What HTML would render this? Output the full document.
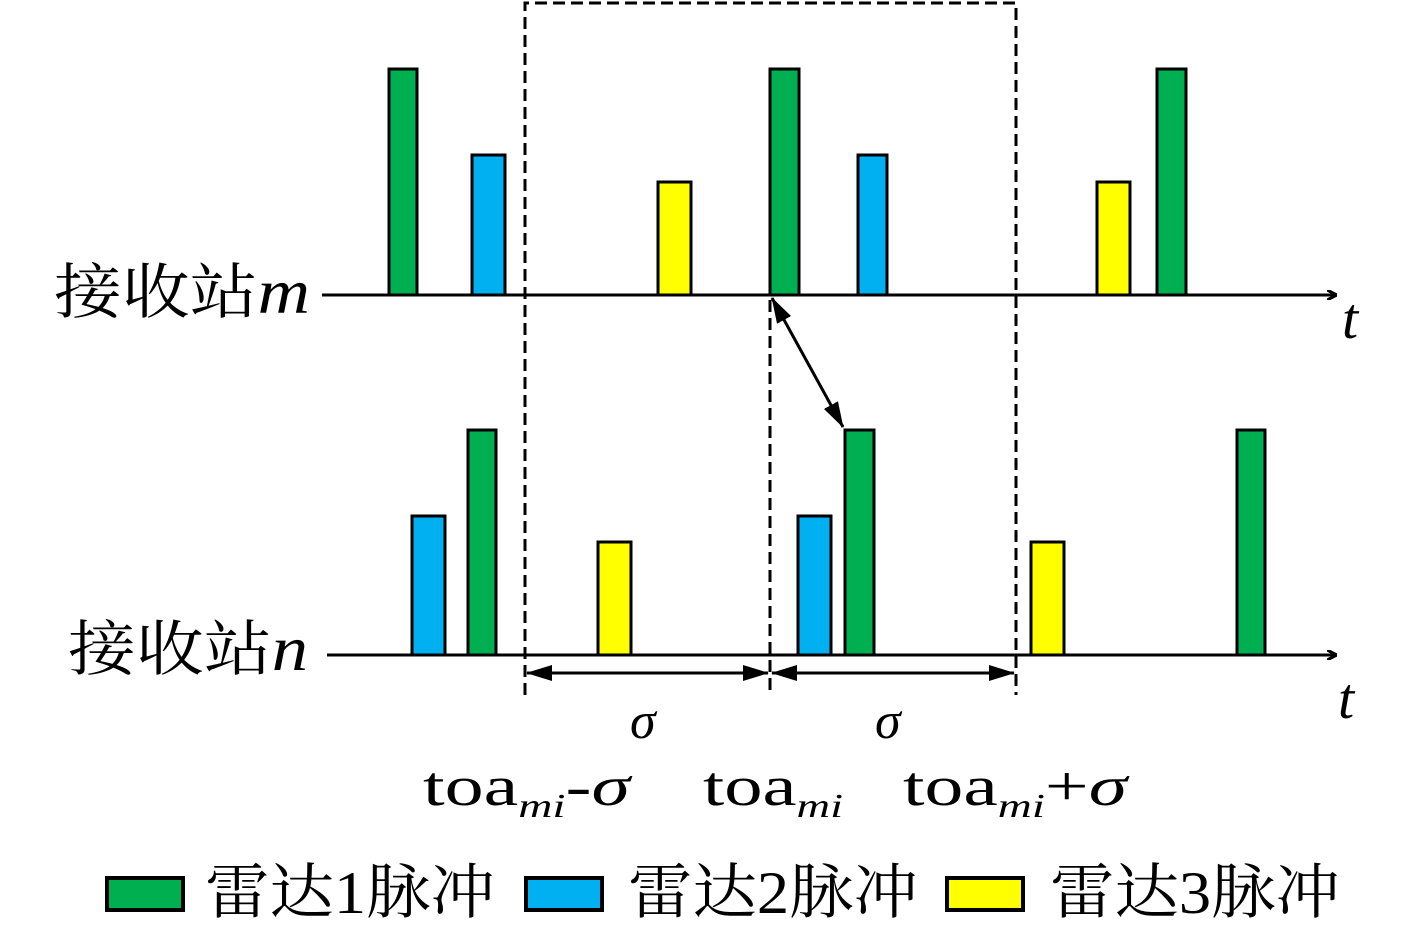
<!DOCTYPE html>
<html><head><meta charset="utf-8"><style>
html,body{margin:0;padding:0;background:#fff;}
svg{display:block;}
.cj{font-family:"Liberation Serif","Noto Serif CJK SC",serif;}
.it{font-family:"Liberation Serif",serif;font-style:italic;}
.rm{font-family:"Liberation Serif",serif;}
</style></head><body>
<svg width="1417" height="933" viewBox="0 0 1417 933" xmlns="http://www.w3.org/2000/svg">
<defs>
<marker id="ah" markerWidth="10" markerHeight="10" refX="9" refY="5" orient="auto" markerUnits="userSpaceOnUse">
<path d="M0,0 L10,5 L0,10" fill="none" stroke="#000" stroke-width="3"/></marker>
<marker id="fa" markerWidth="26" markerHeight="16" refX="25" refY="8" orient="auto-start-reverse" markerUnits="userSpaceOnUse">
<path d="M0,0 L26,8 L0,16 Z" fill="#000"/></marker>
</defs>
<g stroke="#000" stroke-width="3">
<rect x="389" y="69" width="28" height="226" fill="#00b050"/>
<rect x="472" y="155" width="33" height="140" fill="#00b0f0"/>
<rect x="658" y="182" width="33" height="113" fill="#ffff00"/>
<rect x="770" y="69" width="29" height="226" fill="#00b050"/>
<rect x="858" y="155" width="29" height="140" fill="#00b0f0"/>
<rect x="1097" y="182" width="33" height="113" fill="#ffff00"/>
<rect x="1157" y="69" width="29" height="226" fill="#00b050"/>
<rect x="412" y="516" width="33" height="139" fill="#00b0f0"/>
<rect x="468" y="430" width="28" height="225" fill="#00b050"/>
<rect x="598" y="542" width="33" height="113" fill="#ffff00"/>
<rect x="798" y="516" width="33" height="139" fill="#00b0f0"/>
<rect x="845" y="430" width="29" height="225" fill="#00b050"/>
<rect x="1031" y="542" width="33" height="113" fill="#ffff00"/>
<rect x="1237" y="430" width="28" height="225" fill="#00b050"/>
</g>
<g stroke="#000" stroke-width="3" fill="none">
<line x1="322" y1="295" x2="1336" y2="295" marker-end="url(#ah)"/>
<line x1="327" y1="655" x2="1336" y2="655" marker-end="url(#ah)"/>
<path d="M525,695 L525,3 L1016,3 L1016,695" stroke-dasharray="12,6"/>
<line x1="770" y1="300" x2="770" y2="695" stroke-dasharray="12,6"/>
<line x1="772" y1="298" x2="843" y2="427" marker-start="url(#fa)" marker-end="url(#fa)"/>
<line x1="527" y1="673" x2="768" y2="673" marker-start="url(#fa)" marker-end="url(#fa)"/>
<line x1="772" y1="673" x2="1014" y2="673" marker-start="url(#fa)" marker-end="url(#fa)"/>
</g>
<text x="54" y="313" class="cj" font-size="60" textLength="256" lengthAdjust="spacingAndGlyphs">接收站<tspan class="it" font-size="64">m</tspan></text>
<text x="68" y="670" class="cj" font-size="60" textLength="240" lengthAdjust="spacingAndGlyphs">接收站<tspan class="it" font-size="64">n</tspan></text>
<text x="1342" y="338" class="it" font-size="58">t</text>
<text x="1338" y="718" class="it" font-size="58">t</text>
<text x="630" y="738" class="it" font-size="52">σ</text>
<text x="875" y="738" class="it" font-size="52">σ</text>
<text x="423" y="805" class="rm" font-size="56" textLength="207" lengthAdjust="spacingAndGlyphs">toa<tspan class="it" font-size="34" dy="12">mi</tspan><tspan dy="-12">-</tspan><tspan class="it">σ</tspan></text>
<text x="703" y="805" class="rm" font-size="56" textLength="140" lengthAdjust="spacingAndGlyphs">toa<tspan class="it" font-size="34" dy="12">mi</tspan></text>
<text x="903" y="805" class="rm" font-size="56" textLength="224" lengthAdjust="spacingAndGlyphs">toa<tspan class="it" font-size="34" dy="12">mi</tspan><tspan dy="-12">+</tspan><tspan class="it">σ</tspan></text>
<g stroke="#000" stroke-width="4">
<rect x="107" y="878" width="76" height="32" fill="#00b050"/>
<rect x="526" y="878" width="76" height="32" fill="#00b0f0"/>
<rect x="947" y="878" width="76" height="32" fill="#ffff00"/>
</g>
<text x="205" y="913" class="cj" font-size="60" textLength="290" lengthAdjust="spacingAndGlyphs">雷达1脉冲</text>
<text x="628" y="913" class="cj" font-size="60" textLength="290" lengthAdjust="spacingAndGlyphs">雷达2脉冲</text>
<text x="1050" y="913" class="cj" font-size="60" textLength="290" lengthAdjust="spacingAndGlyphs">雷达3脉冲</text>
</svg>
</body></html>
